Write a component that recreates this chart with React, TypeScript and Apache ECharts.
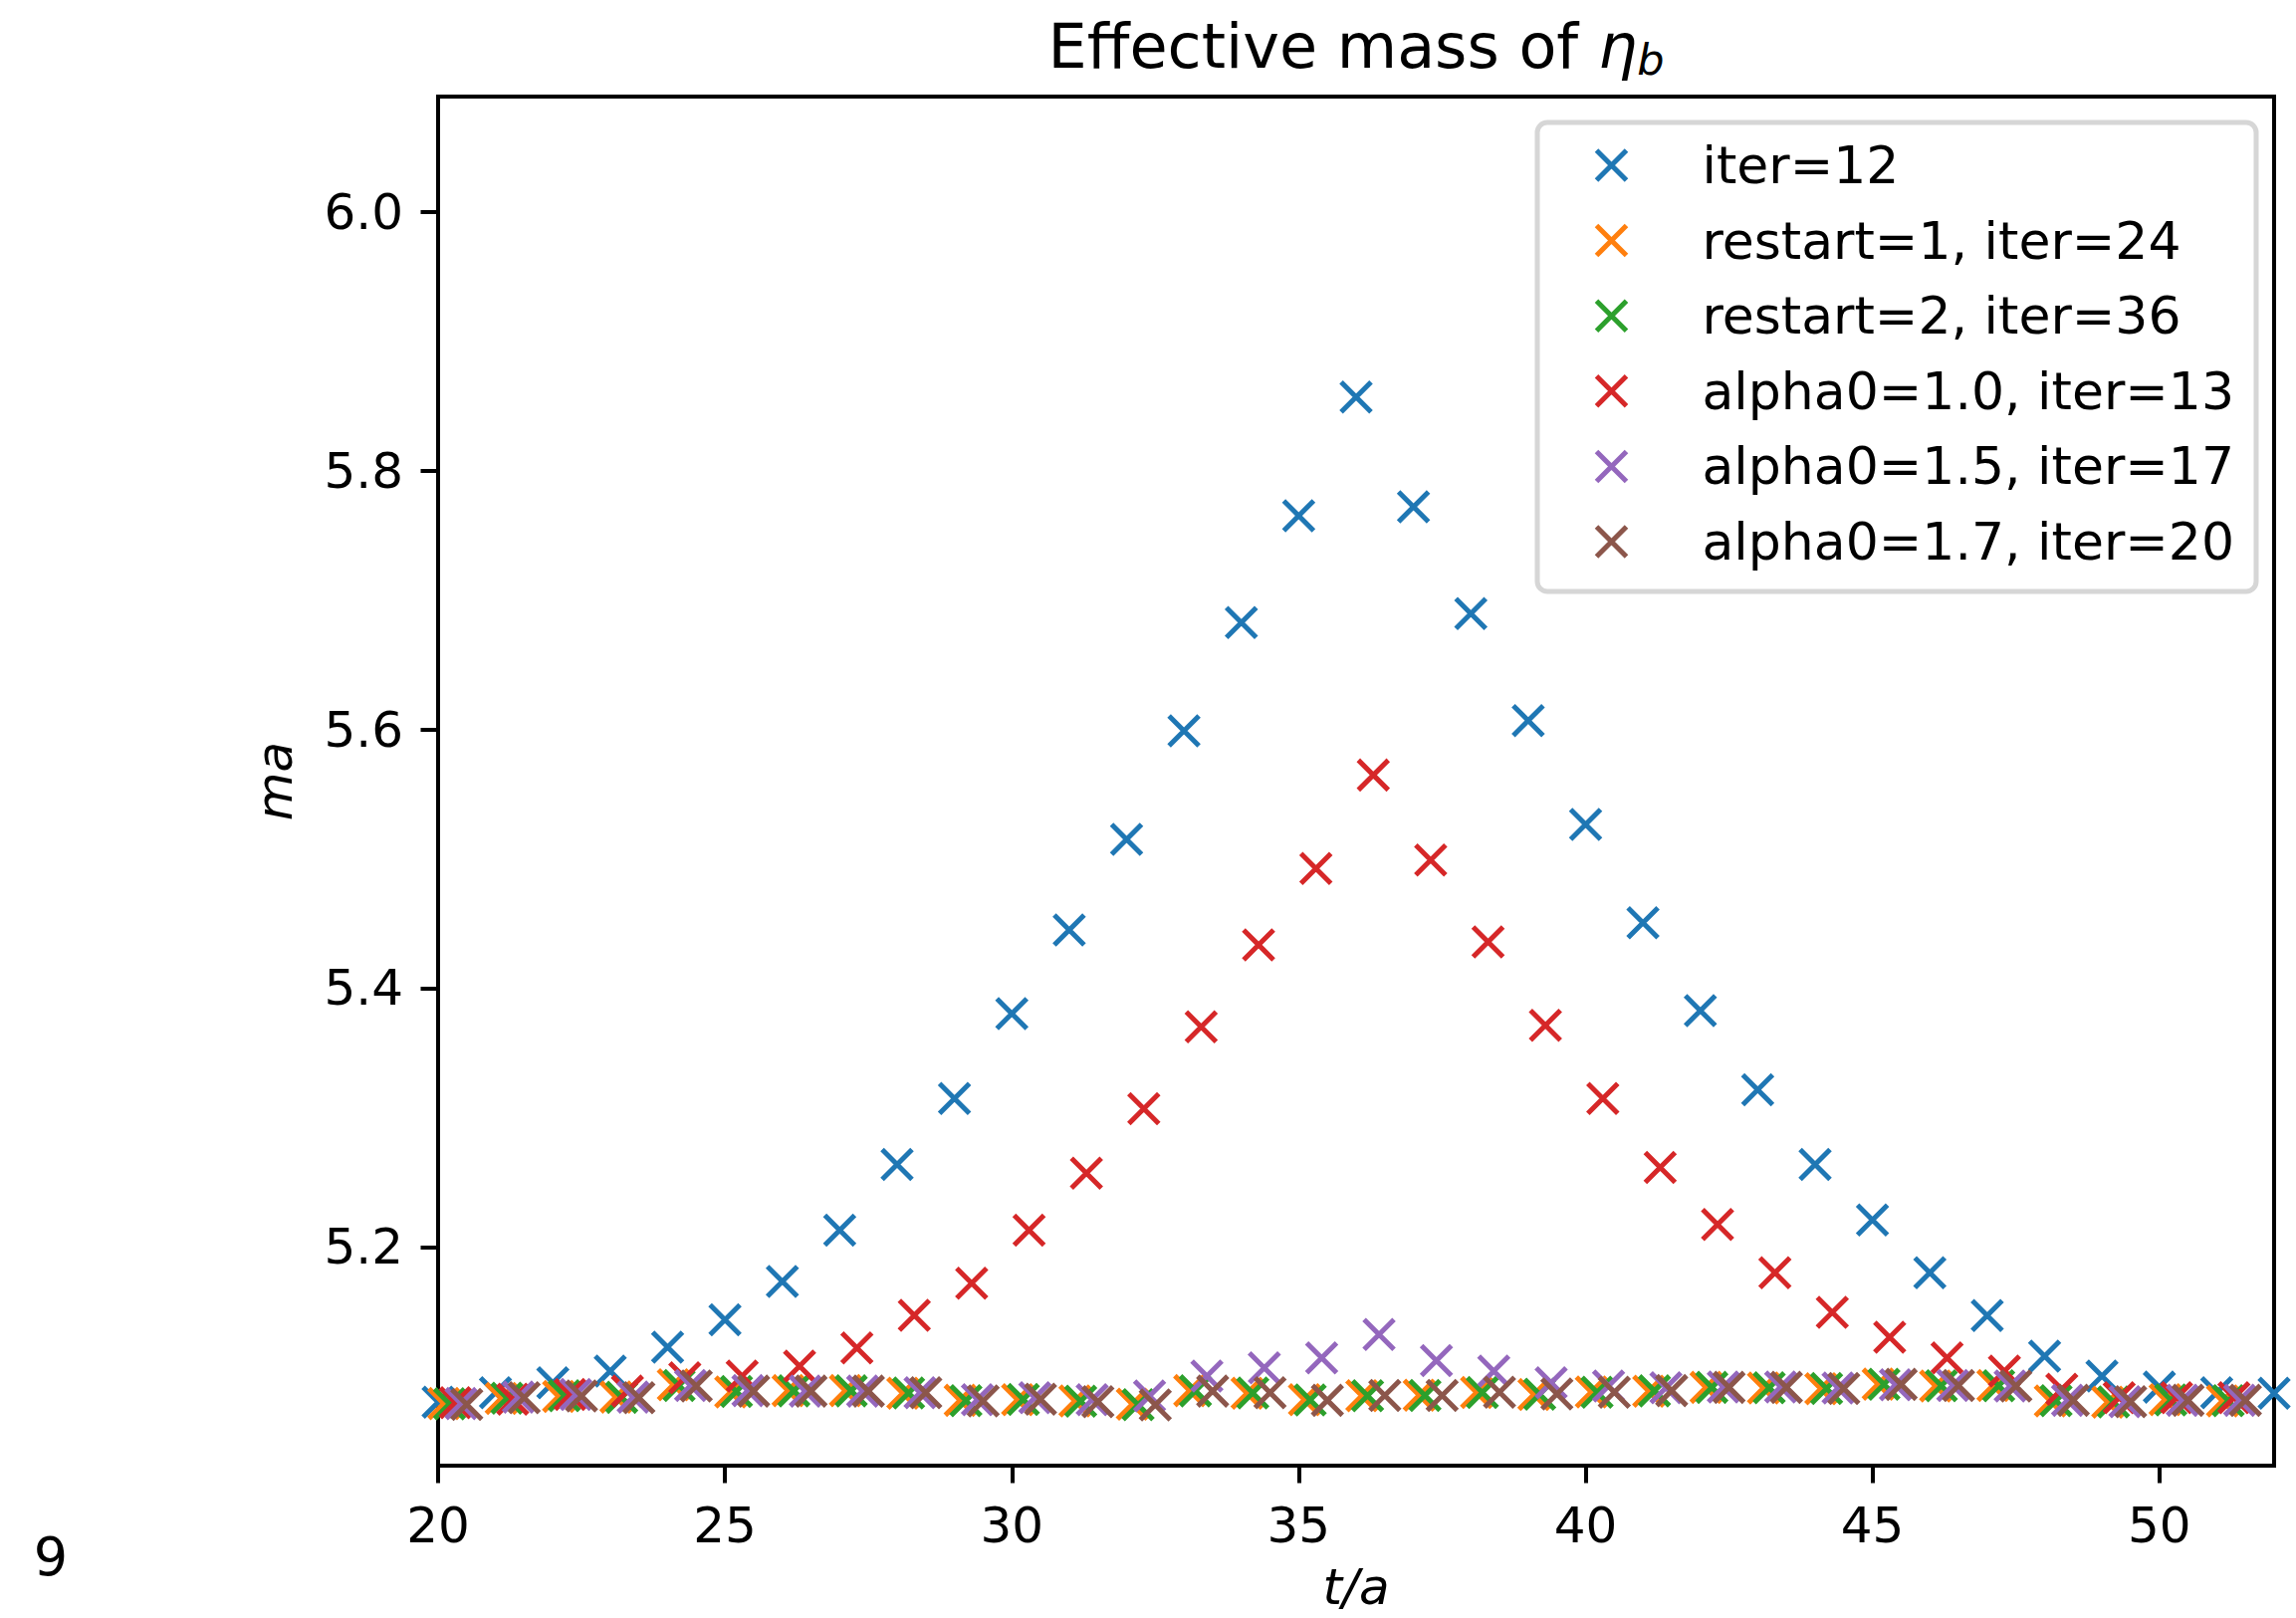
import React, { useEffect, useRef } from 'react';
import * as echarts from 'echarts';

const FONT = 'DejaVu Sans';

// time slices t/a
const T = [20, 21, 22, 23, 24, 25, 26, 27, 28, 29, 30, 31, 32, 33, 34, 35, 36, 37, 38, 39, 40, 41, 42, 43, 44, 45, 46, 47, 48, 49, 50, 51, 52];
// each series is drawn slightly shifted in t
const OFFSETS = [0, 0.1, 0.2, 0.3, 0.4, 0.5];

const NAMES = [
  'iter=12',
  'restart=1, iter=24',
  'restart=2, iter=36',
  'alpha0=1.0, iter=13',
  'alpha0=1.5, iter=17',
  'alpha0=1.7, iter=20',
];
const COLORS = ['#1f77b4', '#ff7f0e', '#2ca02c', '#d62728', '#9467bd', '#8c564b'];

const ITER12 = [5.0800, 5.0874, 5.0951, 5.1041, 5.1226, 5.1438, 5.1733, 5.2129, 5.2638, 5.3147, 5.3803, 5.4449, 5.5150, 5.5988, 5.6825, 5.7651, 5.8568, 5.7720, 5.6894, 5.6068, 5.5265, 5.4506, 5.3826, 5.3215, 5.2638, 5.2208, 5.1801, 5.1470, 5.1156, 5.1002, 5.0917, 5.0874, 5.0870];
const RESTART1 = [5.0790, 5.0830, 5.0845, 5.0840, 5.0935, 5.0880, 5.0890, 5.0890, 5.0870, 5.0815, 5.0820, 5.0810, 5.0785, 5.0890, 5.0870, 5.0820, 5.0850, 5.0855, 5.0875, 5.0860, 5.0880, 5.0885, 5.0915, 5.0910, 5.0905, 5.0940, 5.0925, 5.0930, 5.0810, 5.0800, 5.0820, 5.0810];
const RESTART2 = [5.0788, 5.0832, 5.0850, 5.0838, 5.0930, 5.0884, 5.0888, 5.0888, 5.0872, 5.0812, 5.0822, 5.0808, 5.0782, 5.0888, 5.0872, 5.0818, 5.0851, 5.0853, 5.0876, 5.0862, 5.0878, 5.0888, 5.0915, 5.0912, 5.0906, 5.0939, 5.0928, 5.0928, 5.0812, 5.0803, 5.0818, 5.0812];
const ALPHA10 = [5.0797, 5.0823, 5.0860, 5.0886, 5.0989, 5.1002, 5.1079, 5.1220, 5.1472, 5.1720, 5.2129, 5.2570, 5.3068, 5.3701, 5.4335, 5.4924, 5.5647, 5.4991, 5.4358, 5.3713, 5.3147, 5.2615, 5.2174, 5.1801, 5.1495, 5.1302, 5.1143, 5.1041, 5.0900, 5.0835, 5.0835, 5.0835];
const ALPHA15 = [5.0790, 5.0840, 5.0860, 5.0840, 5.0930, 5.0890, 5.0886, 5.0886, 5.0874, 5.0820, 5.0835, 5.0820, 5.0848, 5.1002, 5.1066, 5.1143, 5.1323, 5.1122, 5.1041, 5.0951, 5.0925, 5.0912, 5.0918, 5.0918, 5.0910, 5.0935, 5.0930, 5.0925, 5.0815, 5.0805, 5.0815, 5.0815];
const ALPHA17 = [5.0784, 5.0835, 5.0848, 5.0835, 5.0925, 5.0886, 5.0886, 5.0886, 5.0874, 5.0810, 5.0823, 5.0805, 5.0779, 5.0886, 5.0874, 5.0815, 5.0852, 5.0852, 5.0877, 5.0864, 5.0877, 5.0890, 5.0915, 5.0915, 5.0907, 5.0938, 5.0930, 5.0925, 5.0815, 5.0805, 5.0815, 5.0815];

const SERIES_VALUES = [ITER12, RESTART1, RESTART2, ALPHA10, ALPHA15, ALPHA17];

const X_TICKS = [20, 25, 30, 35, 40, 45, 50];
const Y_TICKS = [5.2, 5.4, 5.6, 5.8, 6.0];
const X_RANGE = [20, 52];
const Y_RANGE = [5.031, 6.089];

const X_MARK = 'path://M0,0L1,1M1,0L0,1';

export default function App() {
  const ref = useRef<HTMLDivElement>(null);
  useEffect(() => {
    if (!ref.current) return;
    const chart = echarts.init(ref.current, undefined, { renderer: 'svg' });
    const series = SERIES_VALUES.map((vals, i) => ({
      type: 'scatter',
      name: NAMES[i],
      data: vals.map((v, j) => [T[j] + OFFSETS[i], v]),
      symbol: X_MARK,
      symbolSize: 30,
      itemStyle: { color: COLORS[i], borderColor: COLORS[i], borderWidth: 5, opacity: 1 },
      emphasis: { disabled: true },
      silent: true,
      clip: true,
    }));
    chart.setOption({
      animation: false,
      backgroundColor: '#ffffff',
      grid: {
        left: 440, right: 22, top: 97, bottom: 153,
        show: true, borderColor: '#000', borderWidth: 4,
        containLabel: false, outerBoundsMode: 'none',
      },
      xAxis: {
        type: 'value', min: X_RANGE[0], max: X_RANGE[1],
        axisLine: { show: true, onZero: false, lineStyle: { color: '#000', width: 4 } },
        axisTick: { show: true, length: 17.5, customValues: X_TICKS, lineStyle: { color: '#000', width: 4 } },
        axisLabel: { customValues: X_TICKS, margin: 35, fontSize: 50, fontFamily: FONT, color: '#000', formatter: (v: number) => String(v) },
        splitLine: { show: false },
        name: 't/a', nameLocation: 'middle', nameGap: 101,
        nameTextStyle: { fontStyle: 'italic', fontSize: 50, lineHeight: 42, fontFamily: FONT, color: '#000' },
      },
      yAxis: {
        type: 'value', min: Y_RANGE[0], max: Y_RANGE[1],
        axisLine: { show: true, onZero: false, lineStyle: { color: '#000', width: 4 } },
        axisTick: { show: true, length: 17.5, customValues: Y_TICKS, lineStyle: { color: '#000', width: 4 } },
        axisLabel: { customValues: Y_TICKS, margin: 35, fontSize: 50, fontFamily: FONT, color: '#000', formatter: (v: number) => v.toFixed(1) },
        splitLine: { show: false },
        name: 'ma', nameLocation: 'middle', nameGap: 139, nameRotate: 90,
        nameTextStyle: { fontStyle: 'italic', fontSize: 50, fontFamily: FONT, color: '#000' },
      },
      legend: {
        orient: 'vertical', left: 1544, top: 123,
        padding: [17, 22, 24, 57],
        itemWidth: 30, itemHeight: 30, itemGap: 23.6,
        backgroundColor: 'rgba(255,255,255,0.8)',
        borderColor: '#d6d6d6', borderWidth: 5, borderRadius: 10,
        selectedMode: false,
        textStyle: { fontFamily: FONT, fontSize: 52, color: '#000', lineHeight: 50, padding: [0, 0, 0, 71] },
        data: NAMES.map((n, i) => ({
          name: n,
          icon: X_MARK,
          itemStyle: { color: COLORS[i], borderColor: COLORS[i], borderWidth: 5 },
        })),
      },
      graphic: [
        {
          type: 'text', x: 1362, y: 46, silent: true,
          style: {
            text: 'Effective mass of {e|η}{s|b}',
            fontFamily: FONT, fontSize: 62, fill: '#000',
            align: 'center', verticalAlign: 'middle',
            rich: {
              e: { fontFamily: FONT, fontSize: 62, fontStyle: 'italic', fill: '#000' },
              s: { fontFamily: FONT, fontSize: 43, fontStyle: 'italic', fill: '#000', padding: [27, 0, 0, 0] },
            },
          },
        },
        {
          type: 'text', x: 51, y: 1563, silent: true,
          style: { text: '9', fontFamily: FONT, fontSize: 54, fill: '#000', align: 'center', verticalAlign: 'middle' },
        },
      ],
      series,
    });
    return () => chart.dispose();
  }, []);
  return <div ref={ref} style={{ position: 'absolute', left: 0, top: 0, width: 2306, height: 1625 }} />;
}
